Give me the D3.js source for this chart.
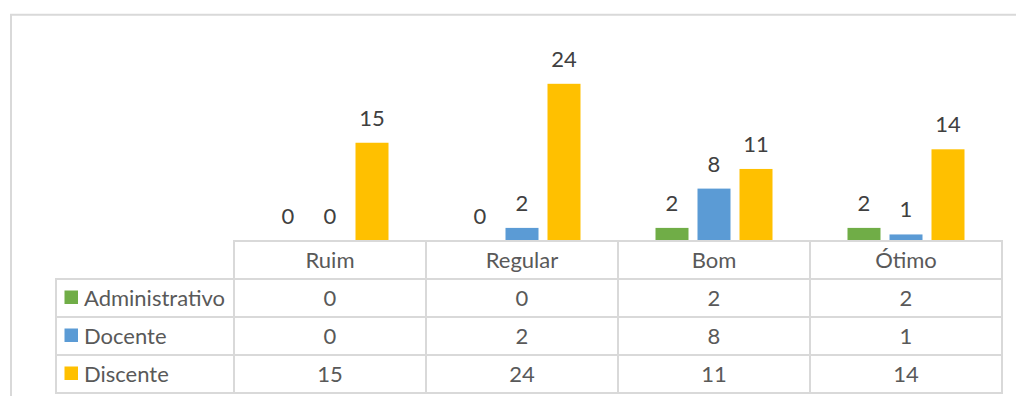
<!DOCTYPE html>
<html>
<head>
<meta charset="utf-8">
<script src="https://cdn.jsdelivr.net/npm/d3@7"></script>
<style>
  html, body { margin: 0; padding: 0; background: #ffffff; }
  svg { display: block; }
  text { font-family: Lato, "Open Sans", sans-serif; }
</style>
</head>
<body>
<svg id="chart" width="1016" height="396"></svg>
<script>
// Avaliação por segmento
const categories = ["Ruim", "Regular", "Bom", "Ótimo"];
const seriesNames = ["Administrativo", "Docente", "Discente"];
const administrativo = [0, 0, 2, 2];
const docente = [0, 2, 8, 1];
const discente = [15, 24, 11, 14];
const seriesColors = ["#70ad47", "#5b9bd5", "#ffc000"];
const yMax = 30;

const seriesValues = [administrativo, docente, discente];
const series = seriesNames.map((name, i) => ({ name, color: seriesColors[i], values: seriesValues[i] }));

const svg = d3.select("#chart");
const grid = "#d9d9d9";
const fontSize = 22;

// layout
const plotLeft = 234, plotRight = 1002;
const baseY = 241, topY = 44.5;
const legendLeft = 56;
const rowH = 38;

// chart frame
svg.append("path")
  .attr("d", `M11,400 V14.8 H1020`)
  .attr("fill", "none")
  .attr("stroke", grid)
  .attr("stroke-width", 2);

const x0 = d3.scaleBand().domain(categories).range([plotLeft, plotRight]).padding(0);
const x1 = d3.scaleBand().domain(seriesNames)
  .range([37.5, x0.bandwidth() - 37.5])
  .paddingInner(9 / 42).paddingOuter(0);
const y = d3.scaleLinear().domain([0, yMax]).range([baseY, topY]);

// bars
const groups = svg.append("g").selectAll("g")
  .data(categories)
  .join("g")
  .attr("transform", d => `translate(${x0(d)},0)`);

groups.selectAll("rect")
  .data((c, ci) => series.map(s => ({ s, v: s.values[ci] })))
  .join("rect")
  .attr("x", d => x1(d.s.name))
  .attr("width", x1.bandwidth())
  .attr("y", d => y(d.v))
  .attr("height", d => baseY - y(d.v))
  .attr("fill", d => d.s.color);

// value labels
groups.selectAll("text.val")
  .data((c, ci) => series.map(s => ({ s, v: s.values[ci] })))
  .join("text")
  .attr("class", "val")
  .attr("x", d => x1(d.s.name) + x1.bandwidth() / 2)
  .attr("y", d => y(d.v) - 17)
  .attr("text-anchor", "middle")
  .attr("font-size", fontSize)
  .attr("fill", "#404040")
  .text(d => d.v);

// data table
const table = svg.append("g");
const tableBottom = baseY + rowH * 4;
const lineAttrs = sel => sel.attr("stroke", grid).attr("stroke-width", 2).attr("fill", "none");

// horizontal lines
table.append("line").attr("x1", plotLeft - 1).attr("x2", plotRight + 1).attr("y1", baseY).attr("y2", baseY).call(lineAttrs);
for (let r = 1; r <= 4; r++) {
  const yy = baseY + rowH * r;
  table.append("line").attr("x1", legendLeft - 1).attr("x2", plotRight + 1).attr("y1", yy).attr("y2", yy).call(lineAttrs);
}
// vertical lines
table.append("line").attr("x1", legendLeft).attr("x2", legendLeft).attr("y1", baseY + rowH).attr("y2", tableBottom).call(lineAttrs);
categories.forEach(c => {
  table.append("line").attr("x1", x0(c)).attr("x2", x0(c)).attr("y1", baseY).attr("y2", tableBottom).call(lineAttrs);
});
table.append("line").attr("x1", plotRight).attr("x2", plotRight).attr("y1", baseY).attr("y2", tableBottom).call(lineAttrs);

// header row
table.selectAll("text.cat")
  .data(categories)
  .join("text")
  .attr("class", "cat")
  .attr("x", d => x0(d) + x0.bandwidth() / 2)
  .attr("y", baseY + rowH / 2 + 7.5)
  .attr("text-anchor", "middle")
  .attr("font-size", fontSize)
  .attr("fill", "#595959")
  .text(d => d);

// series rows
series.forEach((s, i) => {
  const cy = baseY + rowH * (i + 1) + rowH / 2;
  table.append("rect")
    .attr("x", 64.5).attr("y", cy - 7.5)
    .attr("width", 13.5).attr("height", 13.5)
    .attr("fill", s.color);
  table.append("text")
    .attr("x", 84).attr("y", cy + 7.5)
    .attr("font-size", fontSize)
    .attr("fill", "#595959")
    .text(s.name);
  table.selectAll(null)
    .data(categories)
    .join("text")
    .attr("x", d => x0(d) + x0.bandwidth() / 2)
    .attr("y", cy + 7.5)
    .attr("text-anchor", "middle")
    .attr("font-size", fontSize)
    .attr("fill", "#595959")
    .text((d, ci) => s.values[ci]);
});
</script>
</body>
</html>
